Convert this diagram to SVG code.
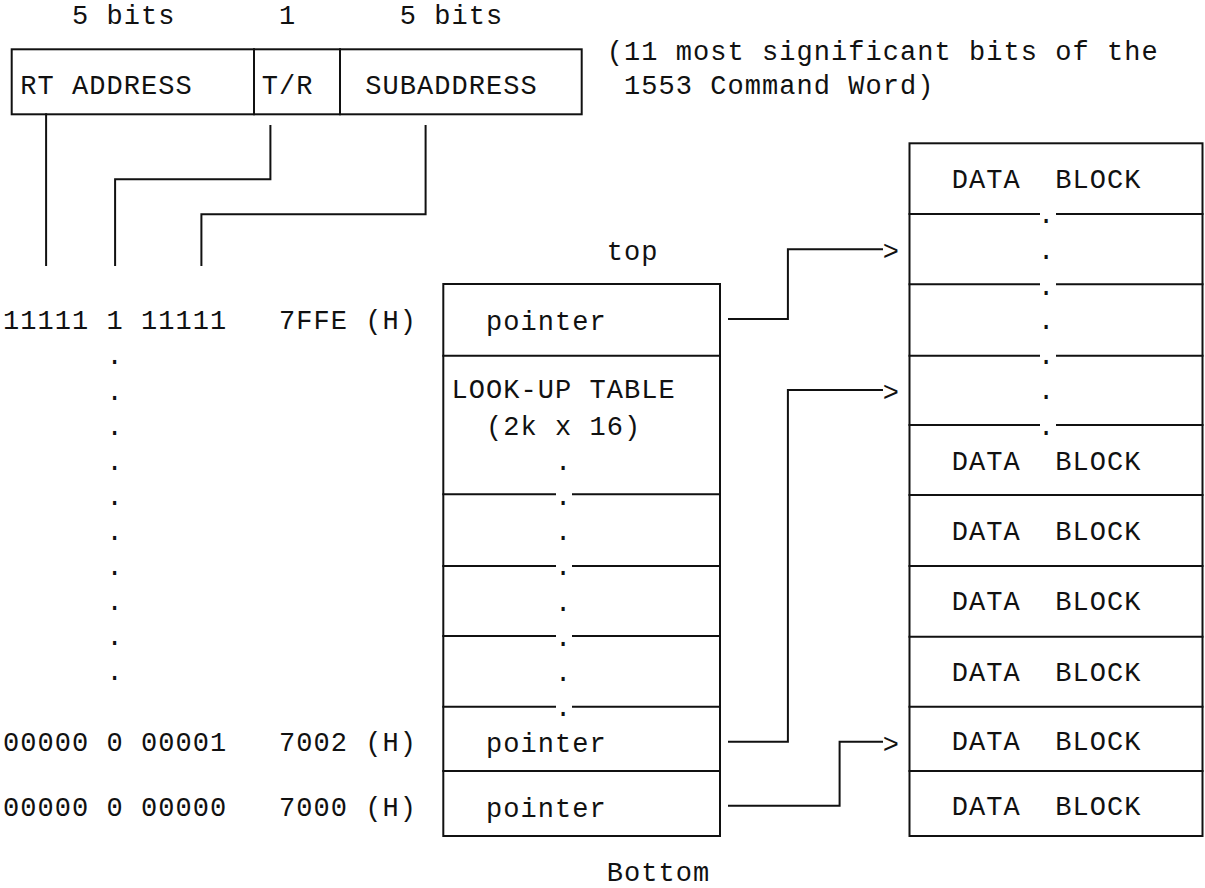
<svg xmlns="http://www.w3.org/2000/svg" width="1205" height="888" viewBox="0 0 1205 888">
<style>
text{font-family:"Liberation Mono","DejaVu Sans Mono",monospace;font-size:27px;letter-spacing:1.05px;fill:#111}
.ln{fill:none;stroke:#111;stroke-width:2;stroke-linecap:square}
.bx{fill:#fff;stroke:#111;stroke-width:2}
</style>
<rect width="1205" height="888" fill="#fff"/>

<g id="bit-labels">
<text x="72" y="24.3">5 bits</text>
<text x="279" y="24.3">1</text>
<text x="399.75" y="24.3">5 bits</text>
</g>

<g id="command-word">
<rect class="bx" x="11.7" y="49.3" width="570" height="65"/>
<path class="ln" d="M254 49.3V114.3M340 49.3V114.3"/>
<text x="20.25" y="94.3">RT ADDRESS</text>
<text x="261.75" y="94.3">T/R</text>
<text x="365.25" y="94.3">SUBADDRESS</text>
</g>

<g id="note">
<text x="606.75" y="60">(11 most significant bits of the</text>
<text x="624" y="94">1553 Command Word)</text>
</g>

<g id="addresses">
<text x="3" y="329.3">11111 1 11111</text>
<text x="279" y="329.3">7FFE (H)</text>
<text x="106.5" y="364.4">.</text>
<text x="106.5" y="399.5">.</text>
<text x="106.5" y="434.6">.</text>
<text x="106.5" y="469.7">.</text>
<text x="106.5" y="504.8">.</text>
<text x="106.5" y="539.9">.</text>
<text x="106.5" y="575">.</text>
<text x="106.5" y="610.1">.</text>
<text x="106.5" y="645.2">.</text>
<text x="106.5" y="680.3">.</text>
<text x="3" y="751">00000 0 00001</text>
<text x="279" y="751">7002 (H)</text>
<text x="3" y="816">00000 0 00000</text>
<text x="279" y="816">7000 (H)</text>
</g>

<g id="lookup-table">
<text x="606.75" y="260">top</text>
<rect class="bx" x="443.3" y="284" width="276.7" height="552"/>
<path class="ln" d="M443.3 355.7H720M443.3 771H720"/>
<path class="ln" d="M443.3 494.3H555M573 494.3H720M443.3 566H555M573 566H720M443.3 636H555M573 636H720M443.3 706.7H555M573 706.7H720"/>
<text x="486" y="330">pointer</text>
<text x="451.5" y="398.3">LOOK-UP TABLE</text>
<text x="486" y="435">(2k x 16)</text>
<text x="555" y="470.3">.</text>
<text x="555" y="505.3">.</text>
<text x="555" y="540.3">.</text>
<text x="555" y="575.3">.</text>
<text x="555" y="611.3">.</text>
<text x="555" y="646.3">.</text>
<text x="555" y="681.3">.</text>
<text x="555" y="716.3">.</text>
<text x="486" y="751.7">pointer</text>
<text x="486" y="816.7">pointer</text>
<text x="606.75" y="880.7">Bottom</text>
</g>

<g id="data-blocks">
<rect class="bx" x="909.5" y="143.3" width="293" height="692.7"/>
<path class="ln" d="M909.5 214H1039M1057 214H1202.5M909.5 284.3H1039M1057 284.3H1202.5M909.5 355.7H1039M1057 355.7H1202.5M909.5 425H1039M1057 425H1202.5"/>
<path class="ln" d="M909.5 495H1202.5M909.5 566H1202.5M909.5 636.7H1202.5M909.5 706.7H1202.5M909.5 771H1202.5"/>
<text x="951.75" y="188.3">DATA</text><text x="1055.25" y="188.3">BLOCK</text>
<text x="1038" y="223">.</text>
<text x="1038" y="259.3">.</text>
<text x="1038" y="294.7">.</text>
<text x="1038" y="329.3">.</text>
<text x="1038" y="364.3">.</text>
<text x="1038" y="399.3">.</text>
<text x="1038" y="435.3">.</text>
<text x="951.75" y="470">DATA</text><text x="1055.25" y="470">BLOCK</text>
<text x="951.75" y="540">DATA</text><text x="1055.25" y="540">BLOCK</text>
<text x="951.75" y="610">DATA</text><text x="1055.25" y="610">BLOCK</text>
<text x="951.75" y="680.5">DATA</text><text x="1055.25" y="680.5">BLOCK</text>
<text x="951.75" y="750">DATA</text><text x="1055.25" y="750">BLOCK</text>
<text x="951.75" y="815">DATA</text><text x="1055.25" y="815">BLOCK</text>
</g>

<g id="connectors">
<path class="ln" d="M46.1 114.3V265"/>
<path class="ln" d="M270.4 126V179.3H115.1V265"/>
<path class="ln" d="M425.6 126V214.3H201.4V265"/>
<path class="ln" d="M729 319H787.9V249.3H882"/>
<path class="ln" d="M729 741.7H787.9V390H882"/>
<path class="ln" d="M729 805.7H839.6V741.7H882"/>
<text x="882.75" y="260">&gt;</text>
<text x="882.75" y="401">&gt;</text>
<text x="882.75" y="752.5">&gt;</text>
</g>
</svg>
